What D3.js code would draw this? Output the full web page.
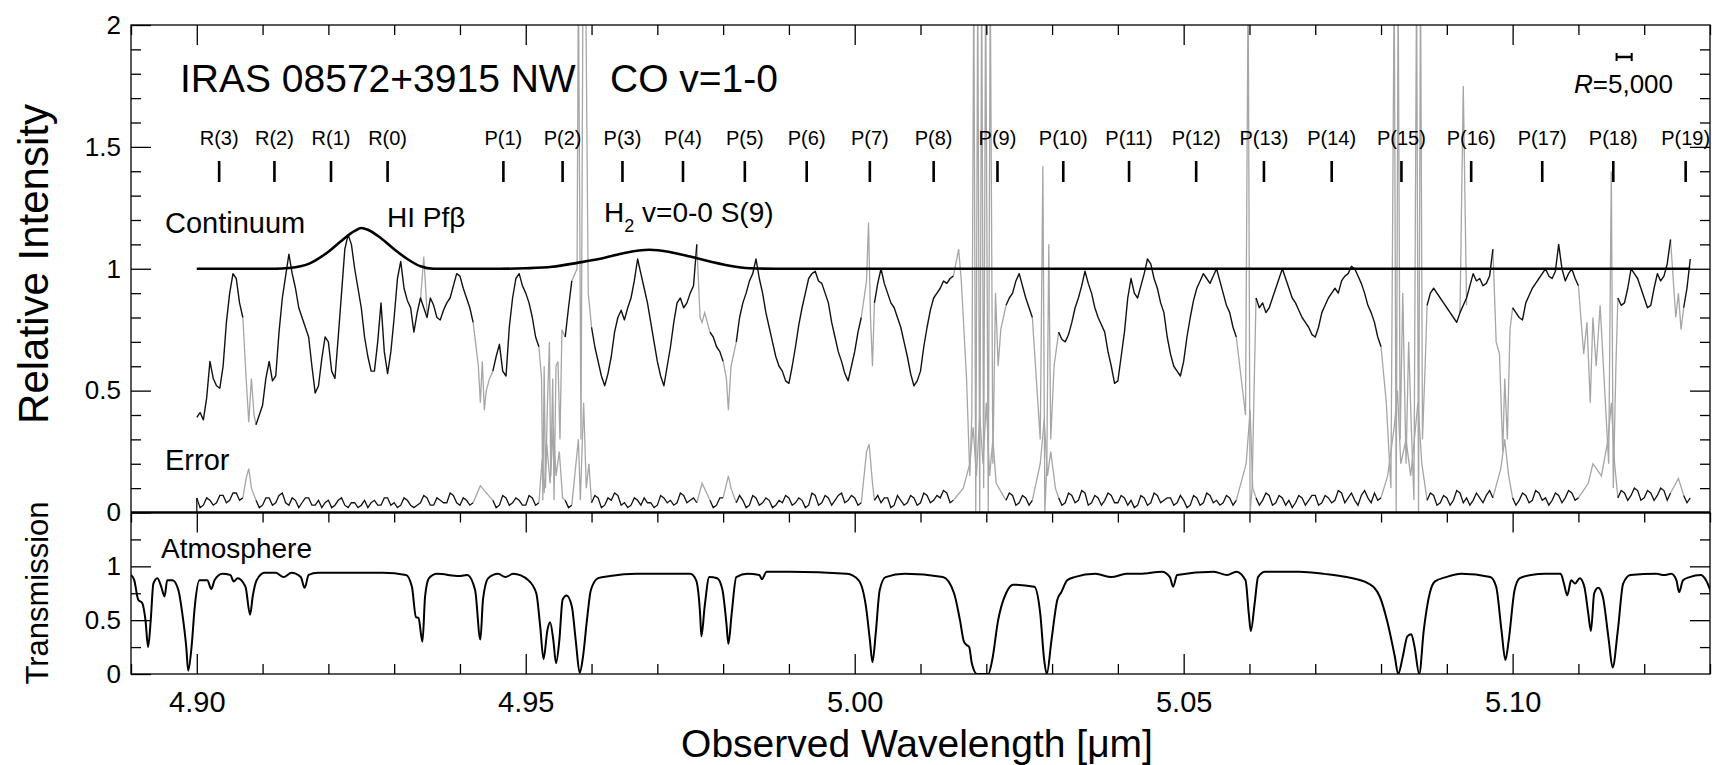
<!DOCTYPE html>
<html><head><meta charset="utf-8">
<script src="https://cdn.jsdelivr.net/npm/d3@7"></script>
<style>
body{margin:0;background:#fff}
text{font-family:"Liberation Sans",Arial,Helvetica,sans-serif;fill:#000}
</style>
</head><body>
<svg id="c" width="1717" height="765"></svg>
<script>
// ---------------- DATA ----------------
const xMajorTicks = [4.90, 4.95, 5.00, 5.05, 5.10];
const xMinorTicks = [4.89,4.91,4.92,4.93,4.94,4.96,4.97,4.98,4.99,5.01,5.02,5.03,5.04,5.06,5.07,5.08,5.09,5.11,5.12,5.13];
const yTopLabels = [0, 0.5, 1, 1.5, 2];
const yTopMinor = [0.1,0.2,0.3,0.4,0.6,0.7,0.8,0.9,1.1,1.2,1.3,1.4,1.6,1.7,1.8,1.9];
const yBotLabels = [0, 0.5, 1];
const yBotMinor = [0.25, 0.75, 1.25];

const lineLabels = ["R(3)","R(2)","R(1)","R(0)","P(1)","P(2)","P(3)","P(4)","P(5)","P(6)","P(7)","P(8)","P(9)","P(10)","P(11)","P(12)","P(13)","P(14)","P(15)","P(16)","P(17)","P(18)","P(19)"];
const lineWaves = [4.9034,4.9118,4.9204,4.9290,4.9466,4.9556,4.9647,4.9739,4.9833,4.9927,5.0023,5.0120,5.0217,5.0317,5.0417,5.0519,5.0622,5.0725,5.0831,5.0937,5.1045,5.1153,5.1263];

const continuumWave  = [4.900,4.912,4.914,4.917,4.920,4.922,4.924,4.925,4.926,4.928,4.930,4.932,4.934,4.936,4.946,4.950,4.954,4.958,4.962,4.965,4.9688,4.972,4.975,4.978,4.981,4.984,4.988,5.127];
const continuumValue = [1.000,1.000,1.003,1.020,1.070,1.115,1.155,1.167,1.160,1.125,1.080,1.040,1.010,1.000,1.000,1.002,1.008,1.025,1.045,1.065,1.078,1.068,1.050,1.030,1.012,1.002,1.000,1.000];

// observed spectrum, one value every 0.0005 um from 4.900 um (null = drawn grey)
const fluxStart = 4.900, fluxStep = 0.0005;
const fluxValues = [
0.39,0.41,0.38,0.47,0.62,0.55,0.52,0.51,0.60,0.78,0.90,0.98,0.96,0.86,0.80,null,null,null,0.36,0.40,
0.44,0.55,0.62,0.54,0.56,0.74,0.88,0.97,1.06,0.98,0.92,0.84,0.80,0.76,0.72,0.60,0.49,0.52,0.63,0.72,
0.70,0.58,0.55,0.72,0.90,1.08,1.14,1.10,1.00,0.92,0.84,0.72,0.64,0.58,0.58,0.70,0.86,0.66,0.57,0.66,
0.80,0.96,1.03,0.92,0.87,0.84,0.74,0.82,0.88,0.84,0.80,0.88,0.85,0.80,0.79,0.83,0.86,0.88,0.93,0.98,
0.97,0.92,0.88,0.84,0.78,null,null,null,null,null,0.58,0.64,0.69,0.58,0.56,0.76,0.88,0.96,0.98,0.93,
0.90,0.86,0.80,0.72,0.68,null,null,null,null,null,null,null,0.72,0.84,0.95,null,null,null,null,null,
0.76,0.68,0.62,0.56,0.52,0.57,0.64,0.74,0.80,0.83,0.79,0.84,0.88,0.95,1.04,0.98,0.92,0.86,0.78,0.70,
0.62,0.56,0.52,0.60,0.68,0.78,0.86,0.88,0.84,0.86,0.90,0.93,1.10,null,null,null,0.74,0.72,0.68,0.66,
0.62,null,null,null,0.70,0.80,0.86,0.90,0.95,0.98,1.04,0.96,0.90,0.82,0.76,0.70,0.64,0.60,0.58,0.54,
0.53,0.60,0.68,0.77,0.84,0.90,0.96,0.98,0.99,0.95,0.94,0.90,0.86,0.78,0.72,0.66,0.62,0.57,0.54,0.60,
0.66,0.74,0.80,null,null,null,0.86,0.94,1.00,0.94,0.90,0.86,0.84,0.80,0.76,0.70,0.64,0.57,0.52,0.54,
0.58,0.68,0.76,0.83,0.88,0.90,0.92,0.95,0.94,0.96,0.97,null,null,null,null,null,null,null,null,null,
null,null,null,null,null,null,0.85,0.88,0.90,0.95,0.98,0.93,0.88,0.84,0.80,null,null,null,null,null,
null,null,0.74,0.71,0.70,0.73,0.78,0.84,0.88,0.93,0.99,0.94,0.90,0.84,0.80,0.77,0.74,0.66,0.60,0.53,
0.54,0.64,0.74,0.88,0.96,0.90,0.88,0.93,0.98,1.04,1.02,0.96,0.92,0.86,0.82,0.72,0.65,0.60,0.58,0.56,
0.62,0.72,0.80,0.87,0.92,0.95,0.98,0.96,0.94,0.97,1.00,0.95,0.90,0.85,0.82,0.76,0.72,null,null,null,
null,null,0.88,0.84,0.86,0.82,0.84,0.88,0.92,0.96,1.00,0.96,0.92,0.88,0.86,0.83,0.80,0.78,0.76,0.73,
0.72,0.76,0.82,0.85,0.88,0.90,0.92,0.90,0.95,0.97,0.98,1.01,1.00,0.97,0.94,0.90,0.85,0.82,0.78,0.72,
0.68,null,null,null,null,null,null,null,null,null,null,null,null,null,0.85,0.90,0.92,0.90,0.88,0.86,
0.84,0.82,0.80,0.78,0.82,0.85,0.88,0.93,0.98,0.95,0.96,0.93,0.94,0.97,1.08,null,null,null,null,null,
0.84,0.82,0.80,0.79,0.86,0.89,0.92,0.94,0.96,0.98,1.00,0.97,0.96,0.99,1.10,1.00,0.95,0.98,1.00,0.96,
0.93,null,null,null,null,null,null,null,null,null,null,null,0.88,0.85,0.86,0.92,1.00,0.98,0.96,0.92,
0.88,0.84,0.85,0.92,0.98,0.95,0.97,1.02,1.12,null,null,null,0.84,0.92,1.04];

// grey (poor atmospheric transmission) parts of the spectrum: [wavelength, value]
const fluxGray = [
 [[4.907,0.80],[4.9075,0.55],[4.9079,0.37],[4.9083,0.55],[4.9087,0.40],[4.909,0.36]],
 [[4.9340,0.87],[4.9345,1.05],[4.9350,0.82]],
 [[4.942,0.78],[4.9428,0.60],[4.9431,0.45],[4.9434,0.62],[4.9437,0.42],[4.9440,0.50],[4.9445,0.55],[4.945,0.58]],
 [[4.952,0.68],[4.9524,0.55],[4.9526,0.05],[4.9528,0.60],[4.9530,0.10],[4.9533,0.45],[4.9536,0.70],[4.9538,0.15],[4.9541,0.55],[4.9543,0.05],[4.9546,0.60],[4.9549,0.62],[4.9552,0.30],[4.9555,0.75],[4.956,0.72]],
 [[4.957,0.95],[4.9578,1.0],[4.9580,2.2],[4.9584,0.3],[4.9587,2.2],[4.9591,2.2],[4.9595,0.9],[4.960,0.76]],
 [[4.976,1.10],[4.9765,0.80],[4.9768,0.78],[4.9772,0.82],[4.978,0.74]],
 [[4.980,0.62],[4.9805,0.55],[4.9808,0.42],[4.9812,0.60],[4.982,0.70]],
 [[5.001,0.80],[5.0018,0.95],[5.0021,1.19],[5.0024,0.80],[5.0027,0.60],[5.003,0.86]],
 [[5.015,0.97],[5.0158,1.08],[5.0162,0.95],[5.0170,0.55],[5.0175,0.15],[5.0178,0.40],[5.0181,2.2],[5.0184,0.0],[5.0187,2.2],[5.0190,0.0],[5.0193,2.2],[5.0196,0.1],[5.0199,2.2],[5.0203,0.0],[5.0206,2.2],[5.0210,0.2],[5.0214,0.9],[5.0218,0.6],[5.0222,0.75],[5.023,0.85]],
 [[5.027,0.80],[5.0282,0.3],[5.0286,1.42],[5.0289,0.0],[5.0292,0.2],[5.0295,1.1],[5.0298,0.3],[5.0303,0.6],[5.031,0.74]],
 [[5.058,0.72],[5.0594,0.4],[5.0598,2.2],[5.0601,0.0],[5.0604,0.1],[5.0607,0.5],[5.061,0.88]],
 [[5.080,0.68],[5.0808,0.45],[5.0815,0.1],[5.0820,2.2],[5.0823,0.0],[5.0826,2.2],[5.0829,0.3],[5.0833,0.9],[5.0838,0.2],[5.0842,0.7],[5.0846,0.35],[5.0850,0.05],[5.0854,2.2],[5.0857,0.0],[5.0860,2.2],[5.0863,0.3],[5.0867,0.6],[5.087,0.85]],
 [[5.0920,0.82],[5.0925,1.75],[5.0930,0.85]],
 [[5.097,1.08],[5.0975,0.7],[5.098,0.65],[5.0985,0.25],[5.0988,0.55],[5.0992,0.3],[5.0996,0.75],[5.100,0.84]],
 [[5.110,0.93],[5.1108,0.65],[5.1113,0.78],[5.1118,0.45],[5.1122,0.8],[5.1127,0.6],[5.1133,0.85],[5.1140,0.5],[5.1146,0.2],[5.1150,1.40],[5.1153,0.1],[5.1157,0.6],[5.116,0.88]],
 [[5.124,1.12],[5.1248,0.8],[5.1252,0.9],[5.1256,0.75],[5.126,0.84]]
];

// error spectrum on the same grid
const errorValues = [
0.06,0.02,0.03,0.06,0.05,0.03,0.04,0.07,0.07,0.04,0.05,0.08,0.08,0.05,0.06,null,null,null,0.05,0.02,
0.03,0.06,0.06,0.03,0.04,0.07,0.08,0.04,0.03,0.06,0.05,0.02,0.04,0.06,0.06,0.03,0.03,0.05,0.02,0.04,
0.05,0.02,0.03,0.05,0.06,0.03,0.02,0.04,0.04,0.02,0.03,0.05,0.02,0.04,0.05,0.03,0.03,0.06,0.06,0.03,
0.04,0.02,0.03,0.06,0.05,0.03,0.02,0.03,0.04,0.07,0.06,0.03,0.03,0.06,0.05,0.04,0.04,0.08,0.07,0.04,
0.03,0.06,0.05,0.03,0.04,null,null,null,null,null,0.05,0.02,0.03,0.07,0.06,0.03,0.04,0.06,0.05,0.03,
0.03,0.07,0.06,0.03,0.04,null,null,null,null,null,null,null,0.05,0.02,0.03,null,null,null,null,null,
0.04,0.07,0.06,0.02,0.03,0.06,0.05,0.08,0.07,0.03,0.04,0.02,0.03,0.06,0.05,0.03,0.06,0.04,0.04,0.02,
0.03,0.07,0.06,0.04,0.05,0.03,0.04,0.08,0.07,0.04,0.05,0.06,0.04,null,null,null,0.05,0.02,0.03,0.06,
0.06,null,null,null,0.04,0.07,0.05,0.02,0.03,0.07,0.06,0.03,0.04,0.06,0.05,0.02,0.03,0.05,0.04,0.07,
0.06,0.03,0.04,0.06,0.05,0.02,0.03,0.08,0.07,0.03,0.04,0.07,0.06,0.03,0.05,0.07,0.08,0.04,0.05,0.07,
0.06,0.03,0.04,null,null,null,0.05,0.07,0.04,0.06,0.06,0.02,0.03,0.07,0.05,0.03,0.04,0.07,0.06,0.03,
0.04,0.08,0.07,0.04,0.05,0.07,0.06,0.09,0.08,0.04,0.05,null,null,null,null,null,null,null,null,null,
null,null,null,null,null,null,0.05,0.08,0.07,0.03,0.04,0.07,0.06,0.03,0.05,null,null,null,null,null,
null,null,0.06,0.03,0.04,0.08,0.07,0.04,0.05,0.09,0.08,0.03,0.04,0.07,0.06,0.03,0.05,0.08,0.07,0.04,
0.04,0.07,0.06,0.03,0.05,0.02,0.03,0.07,0.06,0.03,0.04,0.08,0.07,0.04,0.05,0.06,0.06,0.03,0.04,0.07,
0.05,0.02,0.03,0.07,0.06,0.03,0.04,0.08,0.07,0.04,0.05,0.03,0.04,0.07,0.06,0.03,0.05,null,null,null,
null,null,0.06,0.03,0.05,0.08,0.07,0.03,0.04,0.07,0.06,0.03,0.05,0.02,0.04,0.07,0.06,0.03,0.05,0.07,
0.07,0.03,0.04,0.07,0.06,0.04,0.05,0.09,0.08,0.04,0.06,0.08,0.05,0.03,0.07,0.09,0.06,0.04,0.08,0.05,
0.06,null,null,null,null,null,null,null,null,null,null,null,null,null,0.05,0.08,0.07,0.03,0.04,0.07,
0.06,0.03,0.05,0.09,0.08,0.04,0.06,0.03,0.05,0.08,0.06,0.04,0.07,0.09,0.06,null,null,null,null,null,
0.06,0.03,0.05,0.08,0.07,0.04,0.05,0.09,0.08,0.05,0.06,0.03,0.05,0.08,0.07,0.04,0.06,0.09,0.08,0.05,
0.06,null,null,null,null,null,null,null,null,null,null,null,0.06,0.09,0.08,0.05,0.07,0.10,0.09,0.05,
0.06,0.09,0.08,0.05,0.07,0.10,0.09,0.05,0.08,null,null,null,0.07,0.04,0.06];

const errorGray = [
 [[4.907,0.06],[4.9075,0.14],[4.9079,0.18],[4.9083,0.10],[4.909,0.05]],
 [[4.942,0.04],[4.9431,0.11],[4.9437,0.09],[4.945,0.05]],
 [[4.952,0.04],[4.9525,0.22],[4.9528,0.08],[4.9532,0.28],[4.9537,0.12],[4.9542,0.35],[4.9546,0.15],[4.9551,0.25],[4.9556,0.06],[4.956,0.05]],
 [[4.957,0.03],[4.958,0.30],[4.9583,0.05],[4.9588,0.45],[4.9592,0.10],[4.9596,0.20],[4.960,0.04]],
 [[4.976,0.04],[4.9768,0.12],[4.978,0.05]],
 [[4.980,0.06],[4.9808,0.15],[4.9812,0.10],[4.982,0.04]],
 [[5.001,0.04],[5.0018,0.25],[5.0022,0.28],[5.0027,0.12],[5.003,0.05]],
 [[5.015,0.05],[5.0165,0.10],[5.0175,0.20],[5.018,0.35],[5.0185,0.15],[5.019,0.40],[5.0195,0.20],[5.020,0.45],[5.0205,0.15],[5.021,0.30],[5.0215,0.12],[5.023,0.05]],
 [[5.027,0.05],[5.0282,0.20],[5.0288,0.38],[5.0293,0.15],[5.0298,0.25],[5.0305,0.10],[5.031,0.06]],
 [[5.058,0.05],[5.0595,0.20],[5.0601,0.42],[5.0605,0.10],[5.061,0.06]],
 [[5.080,0.06],[5.081,0.15],[5.082,0.35],[5.0825,0.50],[5.083,0.20],[5.0838,0.30],[5.0845,0.15],[5.085,0.28],[5.0856,0.45],[5.0862,0.20],[5.087,0.05]],
 [[5.097,0.06],[5.0982,0.18],[5.0988,0.30],[5.0994,0.15],[5.100,0.06]],
 [[5.110,0.06],[5.1115,0.12],[5.1122,0.20],[5.1135,0.15],[5.1145,0.30],[5.115,0.45],[5.1155,0.20],[5.116,0.06]],
 [[5.124,0.08],[5.1252,0.14],[5.126,0.07]]
];

// atmospheric transmission
const atmWave = [4.8900,4.8905,4.8911,4.8917,4.8922,4.8926,4.8930,4.8934,4.8940,4.8946,4.8951,4.8955,4.8963,4.8972,4.8978,4.8984,4.8987,4.8992,4.8997,4.9004,4.9016,4.9022,4.9027,4.9039,4.9051,4.9056,4.9062,4.9074,4.9081,4.9085,4.9091,4.9103,4.9120,4.9132,4.9144,4.9158,4.9164,4.9170,4.9184,4.9283,4.9318,4.9327,4.9333,4.9337,4.9343,4.9347,4.9353,4.9365,4.9399,4.9411,4.9423,4.9431,4.9435,4.9443,4.9458,4.9469,4.9481,4.9504,4.9516,4.9522,4.9527,4.9533,4.9537,4.9542,4.9546,4.9551,4.9556,4.9562,4.9570,4.9576,4.9582,4.9587,4.9593,4.9599,4.9610,4.9628,4.9669,4.9750,4.9759,4.9765,4.9767,4.9772,4.9779,4.9791,4.9799,4.9805,4.9808,4.9813,4.9820,4.9837,4.9855,4.9859,4.9866,4.9901,4.9988,5.0006,5.0017,5.0023,5.0027,5.0032,5.0038,5.0047,5.0076,5.0134,5.0151,5.0160,5.0166,5.0170,5.0174,5.0178,5.0186,5.0203,5.0209,5.0218,5.0230,5.0241,5.0273,5.0282,5.0288,5.0292,5.0299,5.0308,5.0314,5.0323,5.0334,5.0366,5.0390,5.0413,5.0434,5.0467,5.0479,5.0484,5.0490,5.0546,5.0566,5.0580,5.0594,5.0599,5.0602,5.0608,5.0613,5.0624,5.0675,5.0714,5.0748,5.0781,5.0798,5.0809,5.0821,5.0826,5.0833,5.0840,5.0846,5.0851,5.0858,5.0865,5.0874,5.0882,5.0899,5.0922,5.0966,5.0975,5.0983,5.0989,5.0994,5.1003,5.1011,5.1028,5.1050,5.1073,5.1078,5.1083,5.1089,5.1095,5.1102,5.1109,5.1115,5.1119,5.1124,5.1130,5.1137,5.1146,5.1152,5.1160,5.1168,5.1179,5.1219,5.1230,5.1241,5.1249,5.1253,5.1259,5.1269,5.1286,5.1294,5.1302];
const atmTrans = [0.92,0.87,0.69,0.66,0.50,0.25,0.50,0.84,0.89,0.81,0.72,0.87,0.87,0.78,0.56,0.25,0.03,0.25,0.63,0.87,0.87,0.79,0.87,0.93,0.92,0.86,0.89,0.81,0.55,0.72,0.87,0.94,0.94,0.90,0.94,0.90,0.80,0.92,0.94,0.94,0.92,0.81,0.53,0.52,0.30,0.72,0.89,0.93,0.91,0.92,0.78,0.32,0.69,0.89,0.93,0.90,0.93,0.87,0.75,0.44,0.14,0.41,0.48,0.31,0.10,0.31,0.69,0.73,0.63,0.31,0.01,0.16,0.50,0.78,0.89,0.91,0.93,0.93,0.87,0.56,0.35,0.63,0.90,0.89,0.78,0.47,0.28,0.56,0.90,0.93,0.92,0.88,0.95,0.95,0.93,0.87,0.63,0.32,0.11,0.38,0.78,0.90,0.93,0.90,0.75,0.50,0.30,0.27,0.25,0.10,0.00,0.00,0.13,0.50,0.75,0.83,0.81,0.56,0.13,0.00,0.31,0.69,0.76,0.87,0.90,0.93,0.90,0.93,0.93,0.95,0.90,0.81,0.92,0.95,0.92,0.95,0.87,0.56,0.40,0.66,0.90,0.95,0.95,0.93,0.90,0.84,0.72,0.50,0.16,0.00,0.16,0.35,0.37,0.25,0.00,0.41,0.75,0.86,0.90,0.93,0.90,0.81,0.41,0.13,0.31,0.78,0.89,0.92,0.93,0.93,0.84,0.73,0.87,0.84,0.89,0.81,0.56,0.40,0.75,0.80,0.72,0.32,0.06,0.41,0.84,0.92,0.93,0.92,0.93,0.87,0.76,0.87,0.90,0.92,0.87,0.75];

const resolutionBar = [5.1158, 5.1181];

// ---------------- CHART ----------------
const svg = d3.select("#c");
const L = 131, R = 1710, T = 25, MID = 512.5, B = 674;
const x = d3.scaleLinear().domain([4.89, 5.13]).range([L, R]);
const yTop = d3.scaleLinear().domain([0, 2]).range([MID, T]);
const yBot = d3.scaleLinear().domain([0, 1.5]).range([B, MID]);

const defs = svg.append("defs");
defs.append("clipPath").attr("id","clipTop").append("rect").attr("x",L).attr("y",T).attr("width",R-L).attr("height",MID-T);
defs.append("clipPath").attr("id","clipBot").append("rect").attr("x",L).attr("y",MID).attr("width",R-L).attr("height",B-MID);

const gTop = svg.append("g").attr("clip-path","url(#clipTop)");
const gBot = svg.append("g").attr("clip-path","url(#clipBot)");

const gridLine = d3.line().defined(d => d != null)
  .x((d,i) => x(fluxStart + i*fluxStep)).y(d => yTop(d));
const pairLine = d3.line().x(d => x(d[0])).y(d => yTop(d[1]));

const GREY = "#a6a6a6";
fluxGray.forEach(seg => gTop.append("path").attr("d", pairLine(seg)).attr("fill","none").attr("stroke",GREY).attr("stroke-width",1.3));
errorGray.forEach(seg => gTop.append("path").attr("d", pairLine(seg)).attr("fill","none").attr("stroke",GREY).attr("stroke-width",1.3));
gTop.append("path").attr("d", gridLine(fluxValues)).attr("fill","none").attr("stroke","#111").attr("stroke-width",1.4).attr("stroke-linejoin","round");
gTop.append("path").attr("d", gridLine(errorValues)).attr("fill","none").attr("stroke","#111").attr("stroke-width",1.3);
gTop.append("line").attr("x1",x(fluxStart)).attr("x2",x(fluxStart)).attr("y1",yTop(0)).attr("y2",yTop(errorValues[0])).attr("stroke","#111").attr("stroke-width",1.3);

gTop.append("path").datum(d3.zip(continuumWave, continuumValue))
  .attr("d", d3.line().x(d=>x(d[0])).y(d=>yTop(d[1])).curve(d3.curveMonotoneX))
  .attr("fill","none").attr("stroke","#000").attr("stroke-width",2.6);

gBot.append("path").datum(d3.zip(atmWave, atmTrans))
  .attr("d", d3.line().x(d=>x(d[0])).y(d=>yBot(d[1])).curve(d3.curveMonotoneX))
  .attr("fill","none").attr("stroke","#000").attr("stroke-width",2);

svg.append("line").attr("x1",L).attr("x2",R).attr("y1",MID).attr("y2",MID).attr("stroke","#000").attr("stroke-width",2.6);
svg.append("rect").attr("x",L).attr("y",T).attr("width",R-L).attr("height",B-T).attr("fill","none").attr("stroke","#000").attr("stroke-width",1.3);

function ax(gen, tx, ty){
  const g = svg.append("g").attr("transform",`translate(${tx},${ty})`).call(gen);
  g.select(".domain").remove();
  g.selectAll(".tick line").attr("stroke","#000").attr("stroke-width",1.3);
  return g;
}
ax(d3.axisBottom(x).tickValues(xMinorTicks).tickSize(10).tickFormat(""),0,T);
ax(d3.axisBottom(x).tickValues(xMajorTicks).tickSize(20).tickFormat(""),0,T);
ax(d3.axisBottom(x).tickValues(xMinorTicks).tickSize(10).tickFormat(""),0,MID);
ax(d3.axisBottom(x).tickValues(xMajorTicks).tickSize(20).tickFormat(""),0,MID);
ax(d3.axisBottom(x).tickValues(xMinorTicks).tickSize(-10).tickFormat(""),0,B);
const xl = ax(d3.axisBottom(x).tickValues(xMajorTicks).tickSize(-20).tickPadding(17).tickFormat(d3.format(".2f")),0,B);
xl.selectAll("text").attr("font-size",29).attr("font-family",null);

ax(d3.axisLeft(yTop).tickValues(yTopMinor).tickSize(-10).tickFormat(""),L,0);
const yl = ax(d3.axisLeft(yTop).tickValues(yTopLabels).tickSize(-20).tickPadding(10).tickFormat(d3.format("")),L,0);
yl.selectAll("text").attr("font-size",26).attr("font-family",null);
ax(d3.axisRight(yTop).tickValues(yTopMinor).tickSize(-10).tickFormat(""),R,0);
ax(d3.axisRight(yTop).tickValues([0.5,1,1.5]).tickSize(-20).tickFormat(""),R,0);

ax(d3.axisLeft(yBot).tickValues(yBotMinor).tickSize(-10).tickFormat(""),L,0);
const yl2 = ax(d3.axisLeft(yBot).tickValues(yBotLabels).tickSize(-20).tickPadding(10).tickFormat(d3.format("")),L,0);
yl2.selectAll("text").attr("font-size",26).attr("font-family",null);
ax(d3.axisRight(yBot).tickValues(yBotMinor).tickSize(-10).tickFormat(""),R,0);
ax(d3.axisRight(yBot).tickValues([0.5,1]).tickSize(-20).tickFormat(""),R,0);

const lm = svg.append("g");
lm.selectAll("line").data(lineWaves).join("line")
  .attr("x1",d=>x(d)).attr("x2",d=>x(d)).attr("y1",161).attr("y2",182)
  .attr("stroke","#000").attr("stroke-width",2.6);
lm.selectAll("text").data(lineLabels).join("text")
  .attr("x",(d,i)=>x(lineWaves[i])).attr("y",145).attr("text-anchor","middle")
  .attr("font-size",20).text(d=>d);

const txt = (s,xx,yy,fs,anchor) => svg.append("text").attr("x",xx).attr("y",yy).attr("font-size",fs).attr("text-anchor",anchor||"start").text(s);
txt("IRAS 08572+3915 NW", 180, 92, 39);
txt("CO v=1-0", 610, 92, 39);
txt("Continuum", 165, 233, 29);
txt("HI Pf\u03b2", 387, 227, 28);
const h2 = svg.append("text").attr("x",604).attr("y",222).attr("font-size",28);
h2.append("tspan").text("H");
h2.append("tspan").attr("dy",10).attr("font-size",18).text("2");
h2.append("tspan").attr("dy",-10).text(" v=0-0 S(9)");
txt("Error", 165, 470, 29);
txt("Atmosphere", 161, 558, 28);

const rt = svg.append("text").attr("x",1574).attr("y",93).attr("font-size",26);
rt.append("tspan").attr("font-style","italic").text("R");
rt.append("tspan").text("=5,000");
const yb = 57;
svg.append("line").attr("x1",x(resolutionBar[0])).attr("x2",x(resolutionBar[1])).attr("y1",yb).attr("y2",yb).attr("stroke","#000").attr("stroke-width",2.5);
resolutionBar.forEach(w => svg.append("line").attr("x1",x(w)).attr("x2",x(w)).attr("y1",yb-4).attr("y2",yb+4).attr("stroke","#000").attr("stroke-width",2));

svg.append("text").attr("transform","translate(48,264) rotate(-90)").attr("text-anchor","middle").attr("font-size",42).text("Relative Intensity");
svg.append("text").attr("transform","translate(48,593) rotate(-90)").attr("text-anchor","middle").attr("font-size",31).text("Transmission");
svg.append("text").attr("x",917).attr("y",757).attr("text-anchor","middle").attr("font-size",39).text("Observed Wavelength [\u03bcm]");
</script>
</body></html>
